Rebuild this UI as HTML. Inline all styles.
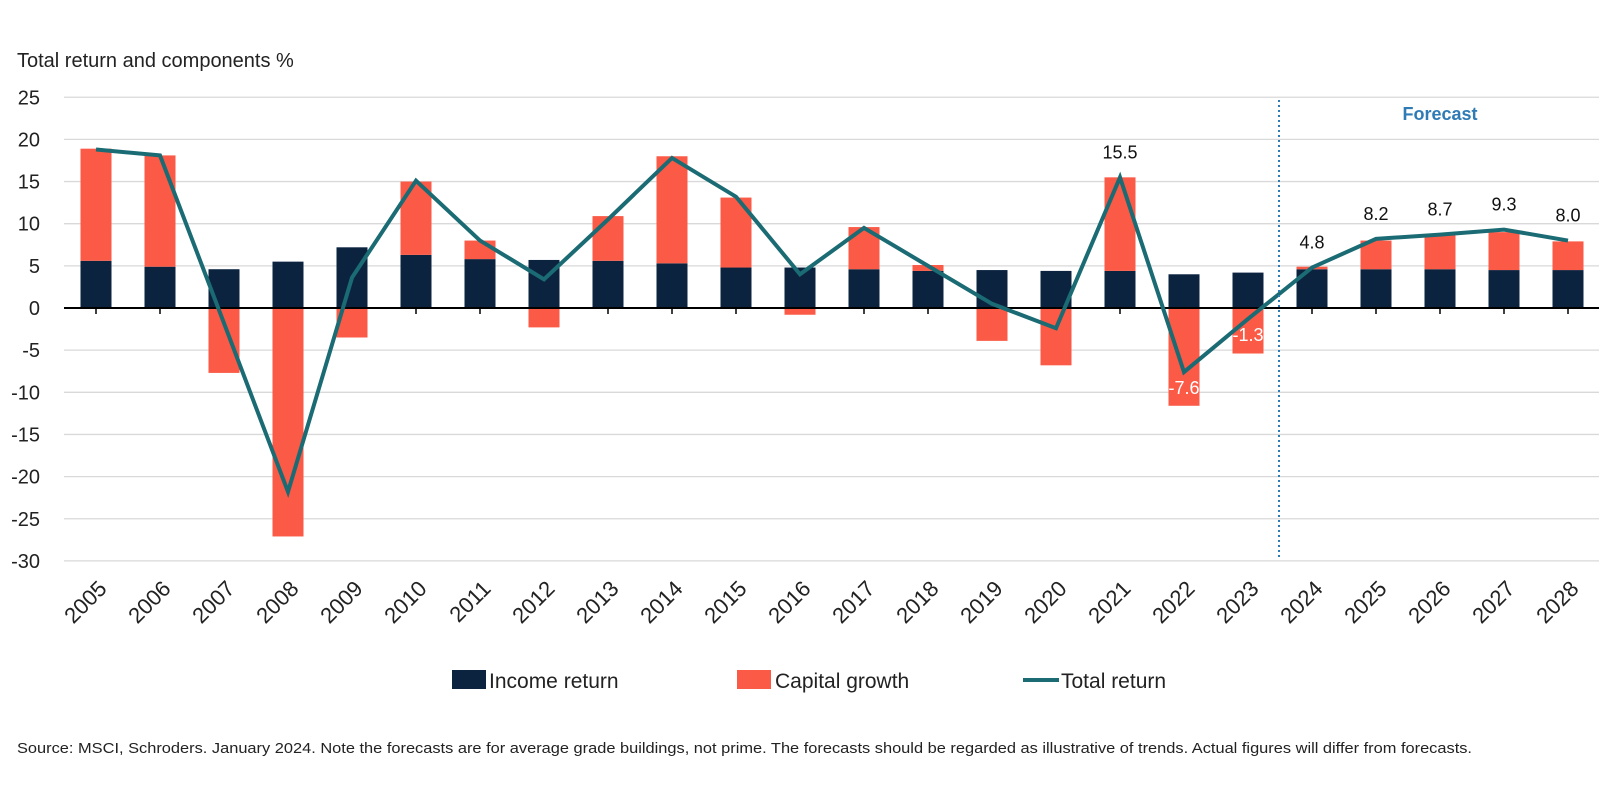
<!DOCTYPE html>
<html><head><meta charset="utf-8"><style>
body{margin:0;background:#fff;}
svg{display:block;font-family:"Liberation Sans","DejaVu Sans",sans-serif;}
</style></head><body>
<svg id="chart" width="1623" height="806" viewBox="0 0 1623 806" xmlns="http://www.w3.org/2000/svg">
<rect width="1623" height="806" fill="#fff"/>
<text x="17" y="67" font-size="20" fill="#222">Total return and components %</text>
<g id="grid"></g>
<g id="bars"></g>
<g id="line"></g>
<g id="labels"></g>
<line x1="1279" y1="100" x2="1279" y2="557" stroke="#2e7bb5" stroke-width="2" stroke-dasharray="2,3"/>
<text x="1440" y="120" font-size="18" font-weight="bold" fill="#2e7bb5" text-anchor="middle">Forecast</text>
<g>
<rect x="452" y="670" width="34" height="19" fill="#0c2340"/>
<text x="489" y="688" font-size="21" fill="#222">Income return</text>
<rect x="737" y="670" width="34" height="19" fill="#fa5a46"/>
<text x="775" y="688" font-size="21" fill="#222">Capital growth</text>
<line x1="1023" y1="680" x2="1059" y2="680" stroke="#1a6b73" stroke-width="4"/>
<text x="1061" y="688" font-size="21" fill="#222">Total return</text>
</g>
<text x="17" y="753" font-size="14.6" fill="#222" textLength="1455" lengthAdjust="spacingAndGlyphs">Source: MSCI, Schroders. January 2024. Note the forecasts are for average grade buildings, not prime. The forecasts should be regarded as illustrative of trends. Actual figures will differ from forecasts.</text>
</svg>
<script>
const years = ["2005","2006","2007","2008","2009","2010","2011","2012","2013","2014","2015","2016","2017","2018","2019","2020","2021","2022","2023","2024","2025","2026","2027","2028"];
const income = [5.6,4.9,4.6,5.5,7.2,6.3,5.8,5.7,5.6,5.3,4.8,4.8,4.6,4.4,4.5,4.4,4.4,4.0,4.2,4.6,4.6,4.6,4.5,4.5];
const capital = [13.3,13.2,-7.7,-27.1,-3.5,8.7,2.2,-2.3,5.3,12.7,8.3,-0.8,5.0,0.7,-3.9,-6.8,11.1,-11.6,-5.4,0.3,3.4,4.0,4.5,3.4];
const totalRet = [18.8,18.1,-1.8,-21.8,3.6,15.1,8.0,3.4,10.5,17.8,13.2,4.0,9.5,5.0,0.5,-2.4,15.5,-7.6,-1.3,4.8,8.2,8.7,9.3,8.0];
const labelIdx = [16,17,18,19,20,21,22,23];
const yTicks = [25,20,15,10,5,0,-5,-10,-15,-20,-25,-30];

const NS="http://www.w3.org/2000/svg";
const y0=308, ppu=8.43, x0=96, step=64, bw=31, left=64, right=1599;
const yS=v=>y0-v*ppu;
const xS=i=>x0+i*step;
function mk(tag,attrs,parent){const e=document.createElementNS(NS,tag);for(const k in attrs)e.setAttribute(k,attrs[k]);parent.appendChild(e);return e;}
const grid=document.getElementById('grid'),bars=document.getElementById('bars'),lineG=document.getElementById('line'),labs=document.getElementById('labels');
yTicks.forEach(t=>{
  if(t!==0){const g=mk('line',{x1:left,x2:right,y1:yS(t),y2:yS(t),stroke:'#d9d9d9','stroke-width':1.3},grid);
  
  }
  const tx=mk('text',{x:40,y:yS(t)+7,'font-size':20,fill:'#222','text-anchor':'end'},grid);
  tx.textContent=t;
  
  
});
years.forEach((yr,i)=>{
  const x=xS(i);
  const ib=mk('rect',{x:x-bw/2,width:bw,y:yS(Math.max(income[i],0)),height:Math.abs(income[i])*ppu,fill:'#0c2340'},bars);
  
  
  const c=capital[i];
  let ytop,h;
  if(c>=0){ytop=yS(income[i]+c);h=c*ppu;}else{ytop=y0;h=-c*ppu;}
  const cb=mk('rect',{x:x-bw/2,width:bw,y:ytop,height:h,fill:'#fa5a46'},bars);
  
  
  const tk=mk('line',{x1:x,x2:x,y1:y0,y2:y0+6,stroke:'#000','stroke-width':1.5},grid);
  
  
  const xl=mk('text',{x:0,y:0,'font-size':22,fill:'#222','text-anchor':'end',transform:`translate(${x+12},${y0+282}) rotate(-45)`},grid);
  xl.textContent=yr;
  
  
});
const ax=mk('line',{x1:left,x2:right,y1:y0,y2:y0,stroke:'#000','stroke-width':2},bars);


const pl=mk('polyline',{points:totalRet.map((v,i)=>xS(i)+','+yS(v)).join(' '),fill:'none',stroke:'#1a6b73','stroke-width':4,'stroke-linejoin':'miter'},lineG);


labelIdx.forEach(i=>{
  const v=totalRet[i];
  const inside=v<0;
  const t=mk('text',{x:xS(i),y:inside?yS(v)+22:yS(v)-19,'font-size':18,fill:inside?'#fff':'#111','text-anchor':'middle'},labs);
  t.textContent=v.toFixed(1);
  
  
});
</script>
</body></html>
